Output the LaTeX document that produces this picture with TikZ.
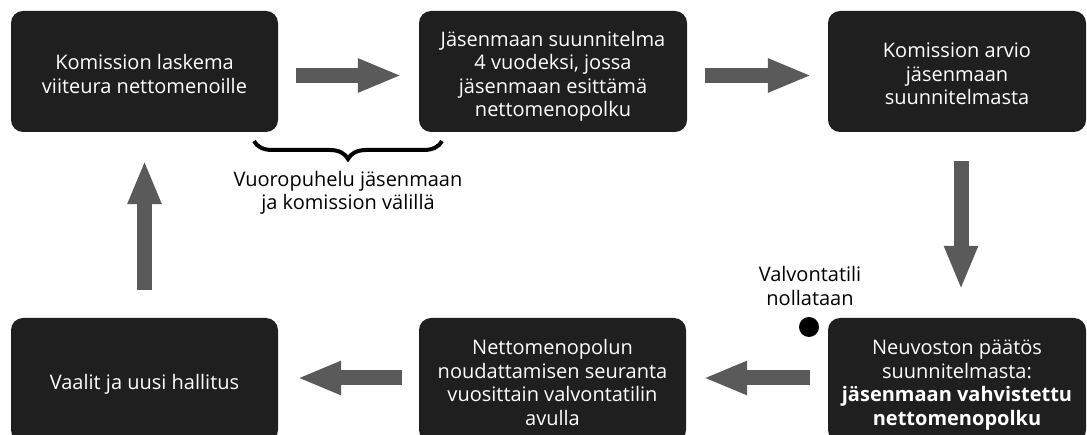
\documentclass[tikz,border=0pt]{standalone}
\usepackage{fontspec}
\setmainfont{Open Sans}
\usepackage{tikz}
\usetikzlibrary{arrows.meta,decorations.pathreplacing}
\definecolor{boxfill}{HTML}{1F1F1F}
\definecolor{flowgray}{HTML}{5A5A5A}
\newcommand{\boxtext}[1]{\rule{0pt}{26pt}#1\rule[-6pt]{0pt}{0pt}}

\begin{document}
\begin{tikzpicture}[x=1pt,y=-1pt]
	\tikzstyle{box}=[rectangle,rounded corners=12pt,fill=boxfill,text=white,align=center,inner sep=0pt,font=\fontsize{20}{23.5}\selectfont]
	\tikzstyle{toprow}=[box,minimum height=121pt]
	\tikzstyle{botrow}=[box,minimum height=124pt]
	\tikzstyle{flow}=[line width=15pt,flowgray,-{Triangle[length=44pt,width=31pt]}]
	\tikzstyle{note}=[align=center,font=\fontsize{20}{23.5}\selectfont]
	\useasboundingbox (0,0) rectangle (1087,435);
	% top row
	\node (laskema) at (144.5,71.5) [toprow,minimum width=267pt] {\boxtext{Komission laskema\\viiteura nettomenoille}};
	\node (suunnitelma) at (553,71.5) [toprow,minimum width=268pt] {\boxtext{Jäsenmaan suunnitelma\\4 vuodeksi, jossa\\jäsenmaan esittämä\\nettomenopolku}};
	\node (arvio) at (957,71.5) [toprow,minimum width=258pt] {\boxtext{Komission arvio\\jäsenmaan\\suunnitelmasta}};
	% bottom row
	\node (vaalit) at (144.5,380) [botrow,minimum width=267pt] {\boxtext{Vaalit ja uusi hallitus}};
	\node (seuranta) at (552.5,380) [botrow,minimum width=267pt] {\boxtext{Nettomenopolun\\noudattamisen seuranta\\vuosittain valvontatilin\\avulla}};
	\node (paatos) at (957,380) [botrow,minimum width=258pt] {\boxtext{Neuvoston päätös\\suunnitelmasta:\\\textbf{jäsenmaan vahvistettu}\\\textbf{nettomenopolku}}};
	% arrows
	\draw [flow,shorten <=18pt,shorten >=17pt] ([yshift=-4pt]laskema.east) -- ([yshift=-4pt]suunnitelma.west);
	\draw [flow,shorten <=18pt,shorten >=16pt] ([yshift=-4pt]suunnitelma.east) -- ([yshift=-4pt]arvio.west);
	\draw [flow,shorten <=29pt,shorten >=28pt] ([xshift=4pt]arvio.south) -- ([xshift=4pt]paatos.north);
	\draw [flow,shorten <=18pt,shorten >=17pt] ([yshift=2pt]paatos.west) -- ([yshift=2pt]seuranta.east);
	\draw [flow,shorten <=17pt,shorten >=19pt] ([yshift=2pt]seuranta.west) -- ([yshift=2pt]vaalit.east);
	\draw [flow,shorten <=28pt,shorten >=28pt] (vaalit.north) -- (laskema.south);
	% dialogue brace
	\draw [line width=4pt,decorate,decoration={brace,mirror,amplitude=18pt}] (254,141) -- (442,141);
	\node (vuoropuhelu) at (348,193) [note] {Vuoropuhelu jäsenmaan\\ja komission välillä};
	% account reset
	\node (nollaus) at (809,327) [circle,fill=black,minimum size=20pt,inner sep=0pt] {};
	\node (valvontatili) at (810,286) [note] {Valvontatili\\nollataan};
\end{tikzpicture}
\end{document}
